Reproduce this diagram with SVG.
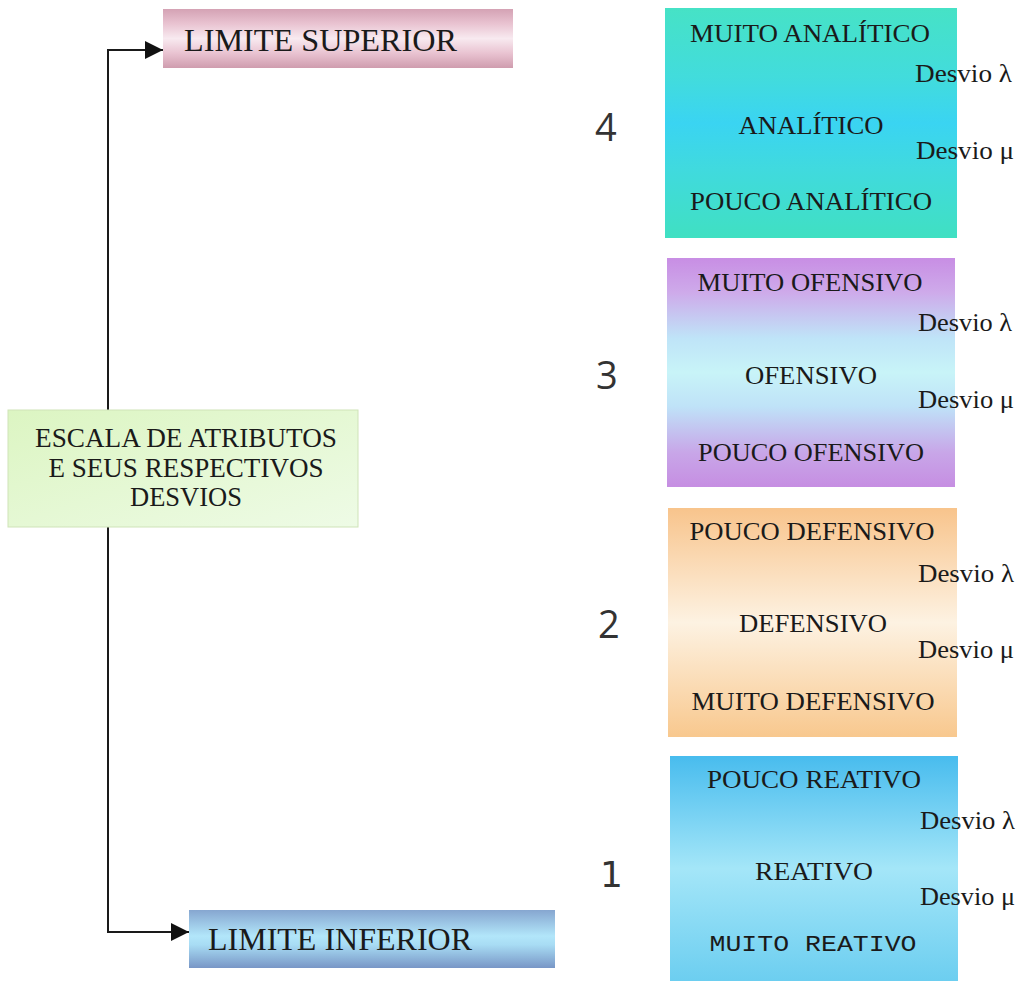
<svg xmlns="http://www.w3.org/2000/svg" width="1022" height="981" viewBox="0 0 1022 981">
  <style>
    .serif { font-family: "Liberation Serif", "Times New Roman", serif; fill: #1a1a1a; }
    .lbl { font-size: 26px; text-anchor: middle; }
    .dev { font-size: 25px; }
    .num { font-family: "Open Sans", "DejaVu Sans", sans-serif; font-size: 38px; fill: #333; }
    .mono { font-family: "Liberation Mono", "Courier New", monospace; font-size: 22px; fill: #1a1a1a; text-anchor: middle; }
    .conn { fill: none; stroke: #1a1a1a; stroke-width: 2; }
  </style>
  <defs>
    <marker id="arrow" viewBox="0 0 10 10" refX="10" refY="5" markerWidth="9" markerHeight="10" markerUnits="strokeWidth" orient="auto">
      <path d="M0,0 L10,5 L0,10 Z" fill="#111"/>
    </marker>
    <linearGradient id="gPink" x1="0" y1="0" x2="0" y2="1">
      <stop offset="0" stop-color="#d4a2b4"/>
      <stop offset="0.25" stop-color="#e9c3d1"/>
      <stop offset="0.5" stop-color="#f8eaf0"/>
      <stop offset="0.75" stop-color="#e9c3d1"/>
      <stop offset="1" stop-color="#cf9cae"/>
    </linearGradient>
    <linearGradient id="gBlueBar" x1="0" y1="0" x2="0" y2="1">
      <stop offset="0" stop-color="#86a6d0"/>
      <stop offset="0.45" stop-color="#b2e6fa"/>
      <stop offset="0.6" stop-color="#a8dcf4"/>
      <stop offset="1" stop-color="#7896c6"/>
    </linearGradient>
    <linearGradient id="gGreen" x1="0" y1="0" x2="1" y2="1">
      <stop offset="0" stop-color="#dcf5c2"/>
      <stop offset="1" stop-color="#eefbe6"/>
    </linearGradient>
    <linearGradient id="g4" x1="0" y1="0" x2="0" y2="1">
      <stop offset="0" stop-color="#46e2c6"/>
      <stop offset="0.3" stop-color="#42dcdc"/>
      <stop offset="0.5" stop-color="#3ad4f2"/>
      <stop offset="0.7" stop-color="#40dade"/>
      <stop offset="1" stop-color="#40e0c2"/>
    </linearGradient>
    <linearGradient id="g3" x1="0" y1="0" x2="0" y2="1">
      <stop offset="0" stop-color="#c88ee4"/>
      <stop offset="0.15" stop-color="#ceaaea"/>
      <stop offset="0.35" stop-color="#bfe4f8"/>
      <stop offset="0.5" stop-color="#c8f4f8"/>
      <stop offset="0.65" stop-color="#bfe2f8"/>
      <stop offset="0.85" stop-color="#c8a6e8"/>
      <stop offset="1" stop-color="#c68ee2"/>
    </linearGradient>
    <linearGradient id="g2" x1="0" y1="0" x2="0" y2="1">
      <stop offset="0" stop-color="#f8c48c"/>
      <stop offset="0.5" stop-color="#fdf2e2"/>
      <stop offset="1" stop-color="#f8c88e"/>
    </linearGradient>
    <linearGradient id="g1" x1="0" y1="0" x2="0" y2="1">
      <stop offset="0" stop-color="#48bcee"/>
      <stop offset="0.5" stop-color="#a4e6f8"/>
      <stop offset="1" stop-color="#6ccef0"/>
    </linearGradient>
  </defs>

  <!-- connectors from the central scale box to the two limits -->
  <g id="connectors">
    <path class="conn" d="M108,410 V50 H163" marker-end="url(#arrow)"/>
    <path class="conn" d="M108,527 V932 H189" marker-end="url(#arrow)"/>
  </g>

  <g id="limite-superior">
    <rect x="163" y="9" width="350" height="59" fill="url(#gPink)"/>
    <text class="serif" x="184" y="51" font-size="32" textLength="273" lengthAdjust="spacingAndGlyphs">LIMITE SUPERIOR</text>
  </g>

  <g id="escala">
    <rect x="8" y="410" width="350" height="117" fill="url(#gGreen)" stroke="#cfe3b8" stroke-width="1"/>
    <text class="serif" x="186" y="447" font-size="27" text-anchor="middle" textLength="302" lengthAdjust="spacingAndGlyphs">ESCALA DE ATRIBUTOS</text>
    <text class="serif" x="186" y="477" font-size="27" text-anchor="middle" textLength="275" lengthAdjust="spacingAndGlyphs">E SEUS RESPECTIVOS</text>
    <text class="serif" x="186" y="506" font-size="27" text-anchor="middle" textLength="112" lengthAdjust="spacingAndGlyphs">DESVIOS</text>
  </g>

  <g id="limite-inferior">
    <rect x="189" y="910" width="366" height="58" fill="url(#gBlueBar)"/>
    <text class="serif" x="208" y="950" font-size="32" textLength="264" lengthAdjust="spacingAndGlyphs">LIMITE INFERIOR</text>
  </g>

  <!-- level 4 -->
  <g id="nivel-4">
    <rect x="665" y="8" width="292" height="230" fill="url(#g4)"/>
    <text class="num" x="595" y="141">4</text>
    <text class="serif lbl" x="810" y="42" textLength="240" lengthAdjust="spacingAndGlyphs">MUITO ANALÍTICO</text>
    <text class="serif dev" x="915" y="82" textLength="97" lengthAdjust="spacingAndGlyphs">Desvio λ</text>
    <text class="serif lbl" x="811" y="134" textLength="145" lengthAdjust="spacingAndGlyphs">ANALÍTICO</text>
    <text class="serif dev" x="916" y="159" textLength="98" lengthAdjust="spacingAndGlyphs">Desvio μ</text>
    <text class="serif lbl" x="811" y="210" textLength="242" lengthAdjust="spacingAndGlyphs">POUCO ANALÍTICO</text>
  </g>

  <!-- level 3 -->
  <g id="nivel-3">
    <rect x="667" y="258" width="288" height="229" fill="url(#g3)"/>
    <text class="num" x="596" y="389">3</text>
    <text class="serif lbl" x="810" y="291" textLength="225" lengthAdjust="spacingAndGlyphs">MUITO OFENSIVO</text>
    <text class="serif dev" x="918" y="331" textLength="94" lengthAdjust="spacingAndGlyphs">Desvio λ</text>
    <text class="serif lbl" x="811" y="384" textLength="132" lengthAdjust="spacingAndGlyphs">OFENSIVO</text>
    <text class="serif dev" x="918" y="408" textLength="96" lengthAdjust="spacingAndGlyphs">Desvio μ</text>
    <text class="serif lbl" x="811" y="461" textLength="226" lengthAdjust="spacingAndGlyphs">POUCO OFENSIVO</text>
  </g>

  <!-- level 2 -->
  <g id="nivel-2">
    <rect x="668" y="508" width="289" height="229" fill="url(#g2)"/>
    <text class="num" x="598" y="638">2</text>
    <text class="serif lbl" x="812" y="540" textLength="245" lengthAdjust="spacingAndGlyphs">POUCO DEFENSIVO</text>
    <text class="serif dev" x="918" y="582" textLength="96" lengthAdjust="spacingAndGlyphs">Desvio λ</text>
    <text class="serif lbl" x="813" y="632" textLength="148" lengthAdjust="spacingAndGlyphs">DEFENSIVO</text>
    <text class="serif dev" x="918" y="658" textLength="96" lengthAdjust="spacingAndGlyphs">Desvio μ</text>
    <text class="serif lbl" x="813" y="710" textLength="243" lengthAdjust="spacingAndGlyphs">MUITO DEFENSIVO</text>
  </g>

  <!-- level 1 -->
  <g id="nivel-1">
    <rect x="670" y="756" width="288" height="225" fill="url(#g1)"/>
    <text x="600" y="887" font-family="DejaVu Sans, sans-serif" font-size="36" fill="#333">1</text>
    <text class="serif lbl" x="814" y="788" textLength="214" lengthAdjust="spacingAndGlyphs">POUCO REATIVO</text>
    <text class="serif dev" x="920" y="829" textLength="95" lengthAdjust="spacingAndGlyphs">Desvio λ</text>
    <text class="serif lbl" x="814" y="880" textLength="118" lengthAdjust="spacingAndGlyphs">REATIVO</text>
    <text class="serif dev" x="920" y="905" textLength="95" lengthAdjust="spacingAndGlyphs">Desvio μ</text>
    <text class="mono" x="813" y="951" textLength="207" lengthAdjust="spacingAndGlyphs">MUITO REATIVO</text>
  </g>
</svg>
